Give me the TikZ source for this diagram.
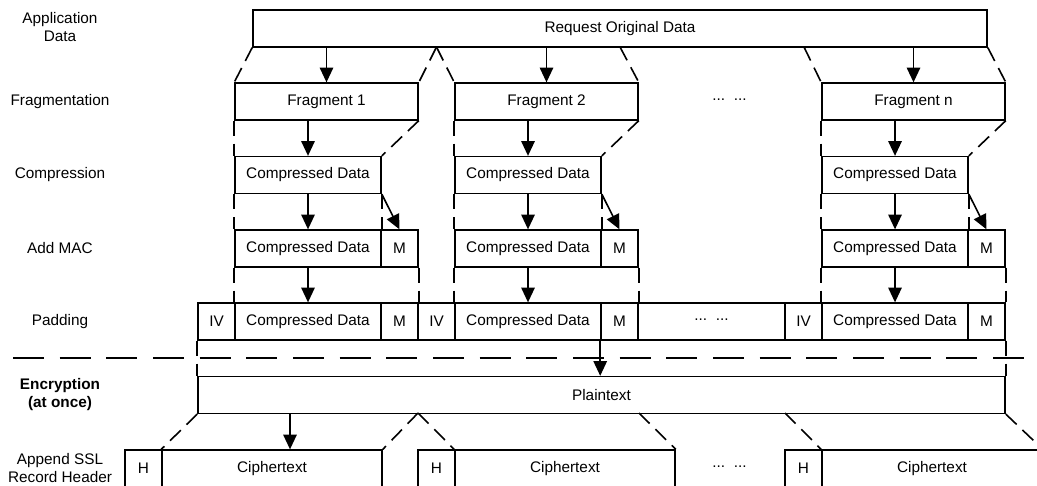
\documentclass[tikz,border=0pt]{standalone}
\usepackage{fontspec}
\setmainfont{Liberation Sans}
\usetikzlibrary{arrows.meta}

\newcommand{\gapdots}{\raisebox{0.22em}{...}\ \ \raisebox{0.22em}{...}}

\begin{document}
\begin{tikzpicture}[
    x=0.75pt, y=-0.75pt,
    font=\fontsize{11.5}{13.5}\selectfont,
    cell/.style={draw, rectangle, line width=1.2pt, minimum height=27.5pt, minimum width=#1*0.75pt, inner sep=0pt, align=center},
    cell/.default=37,
    lbl/.style={align=center},
    arr/.style={-{Triangle[length=11pt, width=10pt]}, line width=1.2pt},
    gap/.style={line width=1.2pt, dash pattern=on 11.25pt off 6pt},
    sep/.style={line width=1.2pt, dash pattern=on 23.25pt off 11.75pt}
]
\useasboundingbox (0,0) rectangle (1037,485);
\clip (0,0) rectangle (1037,485);

\node[lbl] (tApp)  at (60,27)    {Application\\Data};
\node[lbl] (tFrag) at (60,101.5) {Fragmentation};
\node[lbl] (tComp) at (60,175)   {Compression};
\node[lbl] (tMac)  at (60,248.5) {Add MAC};
\node[lbl] (tPad)  at (60,321.5) {Padding};
\node[lbl, font=\fontsize{11.5}{13.5}\selectfont\bfseries] (tEnc) at (60,395) {Encryption\\(at once)};
\node[lbl] (tHdr)  at (60,468)   {Append SSL\\Record Header};

\node[cell=734] (orig) at (620,28.5) {Request Original Data};

\node[cell=183] (f1) at (326.5,101.5) {Fragment 1};
\node[cell=183] (f2) at (546.5,101.5) {Fragment 2};
\node           (fdots) at (729.5,101.5) {\gapdots};
\node[cell=183] (fn) at (913.5,101.5) {Fragment n};

\node[cell=146] (c1) at (308,175) {Compressed Data};
\node[cell=146] (c2) at (528,175) {Compressed Data};
\node[cell=146] (cn) at (895,175) {Compressed Data};

\node[cell=146] (m1)  at (308,248.5)   {Compressed Data};
\node[cell]     (mm1) at (399.5,248.5) {M};
\node[cell=146] (m2)  at (528,248.5)   {Compressed Data};
\node[cell]     (mm2) at (619.5,248.5) {M};
\node[cell=146] (mn)  at (895,248.5)   {Compressed Data};
\node[cell]     (mmn) at (986.5,248.5) {M};

\node[cell]     (iv1)   at (216.5,321.5) {IV};
\node[cell=146] (p1)    at (308,321.5)   {Compressed Data};
\node[cell]     (pm1)   at (399.5,321.5) {M};
\node[cell]     (iv2)   at (436.5,321.5) {IV};
\node[cell=146] (p2)    at (528,321.5)   {Compressed Data};
\node[cell]     (pm2)   at (619.5,321.5) {M};
\node[cell=147] (pdots) at (711.5,321.5) {\gapdots};
\node[cell]     (iv3)   at (803.5,321.5) {IV};
\node[cell=146] (pn)    at (895,321.5)   {Compressed Data};
\node[cell]     (pmn)   at (986.5,321.5) {M};

\node[cell=807] (plain) at (601.5,395) {Plaintext};

\node[cell]     (h1)    at (143.5,468.5) {H};
\node[cell=220] (x1)    at (272,468.5)   {Ciphertext};
\node[cell]     (h2)    at (436.5,468.5) {H};
\node[cell=220] (x2)    at (565,468.5)   {Ciphertext};
\node           (xdots) at (729.5,468.5) {\gapdots};
\node[cell]     (h3)    at (803.5,468.5) {H};
\node[cell=220] (xn)    at (932,468.5)   {Ciphertext};

\coordinate (a1) at (436.5,47);
\coordinate (a2) at (620,47);
\coordinate (a3) at (804,47);
\coordinate (b1) at (418,413);
\coordinate (b2) at (639,413);
\coordinate (b3) at (785,413);
\coordinate (cut) at (290,413);
\coordinate (sepL) at (13,358);
\coordinate (sepR) at (1024,358);

\draw[sep] (sepL) -- (sepR);

\draw[gap] (orig.south west) -- (f1.north west);
\draw[gap] (a1) -- (f1.north east);
\draw[gap] (a1) -- (f2.north west);
\draw[gap] (a2) -- (f2.north east);
\draw[gap] (a3) -- (fn.north west);
\draw[gap] (orig.south east) -- (fn.north east);
\draw[arr] (f1.north |- orig.south) -- (f1.north);
\draw[arr] (f2.north |- orig.south) -- (f2.north);
\draw[arr] (fn.north |- orig.south) -- (fn.north);

\draw[gap] (f1.south west) -- (c1.north west);
\draw[gap] (f1.south east) -- (c1.north east);
\draw[arr] (c1.north |- f1.south) -- (c1.north);
\draw[gap] (f2.south west) -- (c2.north west);
\draw[gap] (f2.south east) -- (c2.north east);
\draw[arr] (c2.north |- f2.south) -- (c2.north);
\draw[gap] (fn.south west) -- (cn.north west);
\draw[gap] (fn.south east) -- (cn.north east);
\draw[arr] (cn.north |- fn.south) -- (cn.north);

\draw[gap] (c1.south west) -- (m1.north west);
\draw[gap] (c1.south east) -- (m1.north east);
\draw[arr] (c1.south) -- (m1.north);
\draw[arr] (c1.south east) -- (mm1.north);
\draw[gap] (c2.south west) -- (m2.north west);
\draw[gap] (c2.south east) -- (m2.north east);
\draw[arr] (c2.south) -- (m2.north);
\draw[arr] (c2.south east) -- (mm2.north);
\draw[gap] (cn.south west) -- (mn.north west);
\draw[gap] (cn.south east) -- (mn.north east);
\draw[arr] (cn.south) -- (mn.north);
\draw[arr] (cn.south east) -- (mmn.north);

\draw[gap] (m1.south west) -- (p1.north west);
\draw[gap] (mm1.south east) -- (pm1.north east);
\draw[arr] (m1.south) -- (p1.north);
\draw[gap] (m2.south west) -- (p2.north west);
\draw[gap] (mm2.south east) -- (pm2.north east);
\draw[arr] (m2.south) -- (p2.north);
\draw[gap] (mn.south west) -- (pn.north west);
\draw[gap] (mmn.south east) -- (pmn.north east);
\draw[arr] (mn.south) -- (pn.north);

\draw[gap] (iv1.south west) -- (plain.north west);
\draw[gap] (pmn.south east) -- (plain.north east);
\draw[arr] (pm2.south west) -- (pm2.south west |- plain.north);

\draw[gap] (plain.south west) -- (x1.north west);
\draw[gap] (b1) -- (x1.north east);
\draw[gap] (b1) -- (x2.north west);
\draw[gap] (b2) -- (x2.north east);
\draw[gap] (b3) -- (xn.north west);
\draw[gap] (plain.south east) -- (xn.north east);
\draw[arr] (cut) -- (cut |- x1.north);
\end{tikzpicture}
\end{document}
